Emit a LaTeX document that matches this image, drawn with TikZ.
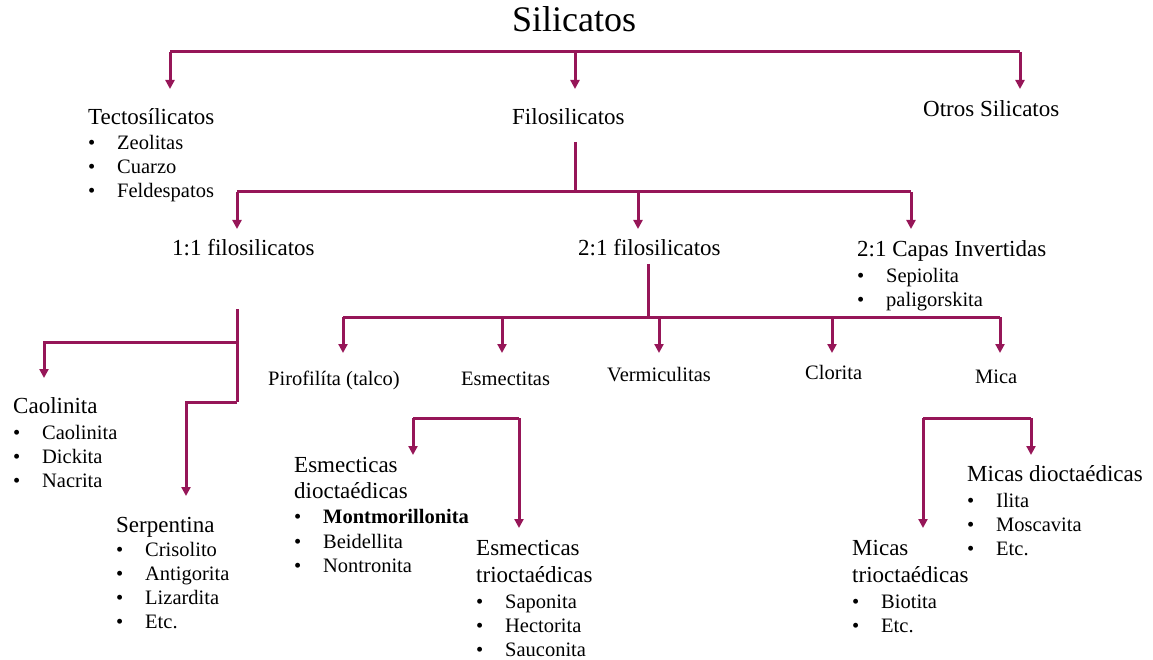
\documentclass[tikz,border=0pt]{standalone}
\usepackage{fontspec}
\setmainfont{Liberation Serif}
\usetikzlibrary{arrows.meta}
\definecolor{linkcol}{RGB}{150,22,88}
\newcommand\bul{\makebox[29pt][l]{•}}

\begin{document}
\begin{tikzpicture}[x=1pt,y=-1pt,
  conn/.style={draw=linkcol, line width=3pt},
  arr/.style={conn, -{Triangle[width=9pt,length=9pt]}},
  titletext/.style={font=\fontsize{36}{40}\selectfont, anchor=base, inner sep=0},
  head/.style={font=\fontsize{23}{27}\selectfont, anchor=base west, inner sep=0},
  leaf/.style={font=\fontsize{20.5}{24}\selectfont, anchor=base west, inner sep=0},
]
\useasboundingbox (0,0) rectangle (1153,660);

% ---------- texts ----------
\node[titletext] (sil) at (574,32) {Silicatos};

\node[head] (tecto) at (88,125) {Tectosílicatos};
\node[leaf] (tecto1) at (88,150) {\bul Zeolitas};
\node[leaf] (tecto2) at (88,174) {\bul Cuarzo};
\node[leaf] (tecto3) at (88,198) {\bul Feldespatos};

\node[head] (filo) at (512,125) {Filosilicatos};
\node[head] (otros) at (923,117) {Otros Silicatos};

\node[head] (uno) at (172,256) {1:1 filosilicatos};
\node[head] (dos) at (578,256) {2:1 filosilicatos};
\node[head] (capas) at (857,257) {2:1 Capas Invertidas};
\node[leaf] (capas1) at (857,282) {\bul Sepiolita};
\node[leaf] (capas2) at (857,306) {\bul paligorskita};

\node[leaf] (piro) at (268,385) {Pirofilíta (talco)};
\node[leaf] (esme) at (461,385) {Esmectitas};
\node[leaf] (verm) at (607,381) {Vermiculitas};
\node[leaf] (clor) at (805,379) {Clorita};
\node[leaf] (mica) at (975,383) {Mica};

\node[head] (caol) at (13,413) {Caolinita};
\node[leaf] (caol1) at (13,439) {\bul Caolinita};
\node[leaf] (caol2) at (13,463) {\bul Dickita};
\node[leaf] (caol3) at (13,487) {\bul Nacrita};

\node[head] (serp) at (116,532) {Serpentina};
\node[leaf] (serp1) at (116,556) {\bul Crisolito};
\node[leaf] (serp2) at (116,580) {\bul Antigorita};
\node[leaf] (serp3) at (116,604) {\bul Lizardita};
\node[leaf] (serp4) at (116,628) {\bul Etc.};

\node[head] (edio) at (294,472) {Esmecticas};
\node[head] (edio0) at (294,498) {dioctaédicas};
\node[leaf] (edio1) at (294,523) {\bul\textbf{Montmorillonita}};
\node[leaf] (edio2) at (294,548) {\bul Beidellita};
\node[leaf] (edio3) at (294,572) {\bul Nontronita};

\node[head] (etri) at (476,555) {Esmecticas};
\node[head] (etri0) at (476,582) {trioctaédicas};
\node[leaf] (etri1) at (476,608) {\bul Saponita};
\node[leaf] (etri2) at (476,632) {\bul Hectorita};
\node[leaf] (etri3) at (476,656) {\bul Sauconita};

\node[head] (mdio) at (967,481) {Micas dioctaédicas};
\node[leaf] (mdio1) at (967,507) {\bul Ilita};
\node[leaf] (mdio2) at (967,531) {\bul Moscavita};
\node[leaf] (mdio3) at (967,555) {\bul Etc.};

\node[head] (mtri) at (852,555) {Micas};
\node[head] (mtri0) at (852,582) {trioctaédicas};
\node[leaf] (mtri1) at (852,608) {\bul Biotita};
\node[leaf] (mtri2) at (852,632) {\bul Etc.};

% ---------- junction points ----------
\coordinate (barA-l) at (170,52);
\coordinate (barA-m) at (575,52);
\coordinate (barA-r) at (1020,52);
\coordinate (tip-tecto) at (170,89);
\coordinate (tip-filo) at (575,89);
\coordinate (tip-otros) at (1020,89);

\coordinate (filo-stem) at (575,142);
\coordinate (barB-m) at (575,192);
\coordinate (barB-l) at (237,192);
\coordinate (barB-c) at (638,192);
\coordinate (barB-r) at (911,192);
\coordinate (tip-uno) at (237,229);
\coordinate (tip-dos) at (638,229);
\coordinate (tip-capas) at (911,229);

\coordinate (uno-stem) at (237,309);
\coordinate (uno-split) at (237,342);
\coordinate (uno-bend) at (237,402);
\coordinate (caol-corner) at (44,342);
\coordinate (tip-caol) at (44,378);
\coordinate (serp-corner) at (186,402);
\coordinate (tip-serp) at (186,496);

\coordinate (dos-stem) at (648,264);
\coordinate (barC-m) at (648,317);
\coordinate (barC-1) at (343,317);
\coordinate (barC-2) at (502,317);
\coordinate (barC-3) at (659,317);
\coordinate (barC-4) at (832,317);
\coordinate (barC-5) at (1000,317);

\coordinate (barD-l) at (413,418);
\coordinate (barD-r) at (519,418);
\coordinate (tip-edio) at (413,455);
\coordinate (tip-etri) at (519,528);

\coordinate (barE-l) at (923,418);
\coordinate (barE-r) at (1031,418);
\coordinate (tip-mtri) at (923,528);
\coordinate (tip-mdio) at (1031,455);

% ---------- connectors ----------
\draw[conn] (barA-l) -- (barA-r);
\draw[arr] (barA-l) -- (tip-tecto);
\draw[arr] (barA-m) -- (tip-filo);
\draw[arr] (barA-r) -- (tip-otros);

\draw[conn] (filo-stem) -- (barB-m);
\draw[conn] (barB-l) -- (barB-r);
\draw[arr] (barB-l) -- (tip-uno);
\draw[arr] (barB-c) -- (tip-dos);
\draw[arr] (barB-r) -- (tip-capas);

\draw[conn] (uno-stem) -- (uno-bend);
\draw[arr] (uno-split) -- (caol-corner) -- (tip-caol);
\draw[arr] (uno-bend) -- (serp-corner) -- (tip-serp);

\draw[conn] (dos-stem) -- (barC-m);
\draw[conn] (barC-1) -- (barC-5);
\foreach \i in {1,...,5}
  \draw[arr] (barC-\i) -- ++(0,36);

\draw[conn] (barD-l) -- (barD-r);
\draw[arr] (barD-l) -- (tip-edio);
\draw[arr] (barD-r) -- (tip-etri);

\draw[conn] (barE-l) -- (barE-r);
\draw[arr] (barE-l) -- (tip-mtri);
\draw[arr] (barE-r) -- (tip-mdio);
\end{tikzpicture}
\end{document}
